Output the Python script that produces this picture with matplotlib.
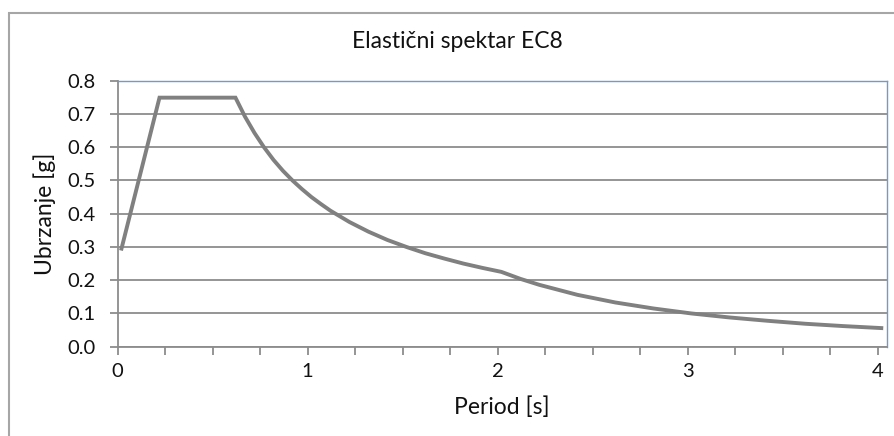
import matplotlib.pyplot as plt
from matplotlib.patches import Rectangle
from matplotlib.ticker import FixedLocator, FuncFormatter

# period [s] and spectral acceleration [g]
period = [0.02, 0.22, 0.62, 0.67, 0.72, 0.77, 0.82, 0.87, 0.92, 0.97, 1.02,
          1.07, 1.12, 1.22, 1.32, 1.42, 1.52, 1.62, 1.72, 1.82, 1.92, 2.02,
          2.12, 2.22, 2.42, 2.62, 2.82, 3.02, 3.22, 3.42, 3.62, 3.82, 4.02]
accel = [0.295, 0.749, 0.749, 0.692, 0.643, 0.600, 0.562, 0.529, 0.500, 0.474,
         0.450, 0.429, 0.409, 0.375, 0.346, 0.321, 0.300, 0.281, 0.265, 0.250,
         0.237, 0.225, 0.204, 0.186, 0.156, 0.133, 0.115, 0.100, 0.088, 0.078,
         0.069, 0.062, 0.056]

x_ticks = [0, 0.25, 0.5, 0.75, 1, 1.25, 1.5, 1.75, 2, 2.25, 2.5, 2.75, 3,
           3.25, 3.5, 3.75, 4]
y_ticks = [0.0, 0.1, 0.2, 0.3, 0.4, 0.5, 0.6, 0.7, 0.8]

plt.rcParams['font.family'] = ['Lato', 'DejaVu Sans']
gray = '#8c8c8c'
txt = '#111111'

fig = plt.figure(figsize=(8.94, 4.36), dpi=100)
# outer chart frame (runs off the right and bottom edges)
fig.patches.append(Rectangle((9 / 894, -0.1), 1.0, 1.1 - 13 / 436,
                             transform=fig.transFigure, fill=False,
                             edgecolor='#a6a6a6', lw=1.5))

ax = fig.add_axes([117.7 / 894, 1 - 346.7 / 436, (887 - 117.7) / 894,
                   (346.7 - 80.7) / 436])
ax.plot(period, accel, color='#808080', lw=2.8, solid_joinstyle='miter',
        zorder=3)

ax.set_xlim(0, 4.05)
ax.set_ylim(0, 0.8)
ax.xaxis.set_major_locator(FixedLocator(x_ticks))
ax.xaxis.set_major_formatter(FuncFormatter(
    lambda v, p: str(int(v)) if abs(v - round(v)) < 1e-9 else ''))
ax.yaxis.set_major_locator(FixedLocator(y_ticks))
ax.yaxis.set_major_formatter(FuncFormatter(lambda v, p: '%.1f' % v))

ax.grid(axis='y', color=gray, lw=1.3)
ax.set_axisbelow(True)
for s in ['left', 'bottom']:
    ax.spines[s].set_color(gray)
    ax.spines[s].set_linewidth(1.3)
for s in ['top', 'right']:
    ax.spines[s].set_color('#6f9bd0')
    ax.spines[s].set_linewidth(1.0)

ax.tick_params(axis='both', direction='out', length=6, width=1.3,
               color=gray, labelsize=14.5, labelcolor=txt)
ax.tick_params(axis='y', pad=10)
ax.tick_params(axis='x', pad=6)

fig.text(502 / 894, 1 - 407 / 436, 'Period [s]', fontsize=16.5,
         ha='center', va='center', color=txt)
fig.text(45 / 894, 1 - 214 / 436, 'Ubrzanje [g]', fontsize=16.5,
         rotation=90, ha='center', va='center', color=txt)
fig.text(457 / 894, 1 - 42 / 436, 'Elastični spektar EC8', fontsize=16.5,
         ha='center', va='center', color=txt)

fig.savefig('out.png', dpi=100)
